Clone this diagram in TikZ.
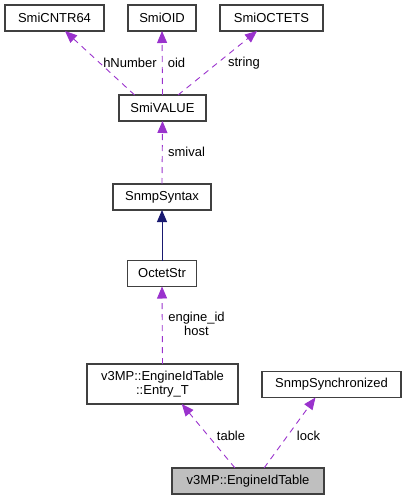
\documentclass[tikz,border=0pt]{standalone}
\usepackage{fontspec}
\setmainfont{Liberation Sans}
\usepackage{xcolor}
\usepackage{tikz}
\usetikzlibrary{arrows.meta,positioning}
\definecolor{purplish}{HTML}{9A32CD}
\definecolor{dnavy}{HTML}{191970}
\definecolor{grayish}{HTML}{BFBFBF}
\definecolor{dgrayish}{HTML}{404040}

\begin{document}
\begin{tikzpicture}[
   x=1pt, y=-1pt,
   every node/.append style={font=\fontsize{13}{14}\selectfont, inner sep=0pt, outer sep=0pt},
   cls/.style={draw=dgrayish, line width=1.1pt, fill=white, minimum height=26pt, align=center},
   lbl/.style={text=black},
   usage/.style={draw=purplish, line width=0.9pt, dash pattern=on 6pt off 5pt,
                 -{Triangle[length=12pt,width=10pt,fill=purplish]}},
   inherit/.style={draw=dnavy, line width=1pt,
                 -{Triangle[length=12pt,width=10pt,fill=dnavy]}}
]
\useasboundingbox (0,0) rectangle (407,500);

\node[cls, minimum width=99pt]  (cntr)  at (54.5,18)  {SmiCNTR64};
\node[cls, minimum width=68pt]  (oid)   at (162,18)   {SmiOID};
\node[cls, minimum width=103pt] (octs)  at (271.5,18) {SmiOCTETS};
\node[cls, minimum width=87pt]  (val)   at (162.5,108) {SmiVALUE};
\node[cls, minimum width=98pt]  (syn)   at (162,197)  {SnmpSyntax};
\node[cls, minimum width=69pt]  (ostr)  at (162,273.5) {OctetStr};
\node[cls, minimum width=151pt, minimum height=40pt] (entry) at (162.5,384) {v3MP::EngineIdTable\\::Entry\_T};
\node[cls, minimum width=139pt] (sync)  at (331.5,384.5) {SnmpSynchronized};
\node[cls, minimum width=152pt, fill=grayish] (tab) at (248,481) {v3MP::EngineIdTable};

\draw[usage] (val.155) -- (cntr.309);
\draw[usage] (val.north) -- (oid.south);
\draw[usage] (val.40) -- (octs.222);
\draw[usage] (syn.north) -- (val.south);
\draw[inherit] (ostr.north) -- (syn.south);
\draw[usage] (entry.north) -- (ostr.south);
\draw[usage] (tab.135) -- (entry.314);
\draw[usage] (tab.39) -- (sync.219);

\node[lbl] (l-hnum)  at (130,63)  {hNumber};
\node[lbl] (l-oid)   at (176.5,63) {oid};
\node[lbl] (l-str)   at (244,63)  {string};
\node[lbl] (l-smi)   at (186.5,152) {smival};
\node[lbl, align=center] (l-eng) at (196.5,324) {engine\_id\\host};
\node[lbl] (l-tab)   at (231,436) {table};
\node[lbl] (l-lock)  at (308.5,436) {lock};
\end{tikzpicture}
\end{document}
